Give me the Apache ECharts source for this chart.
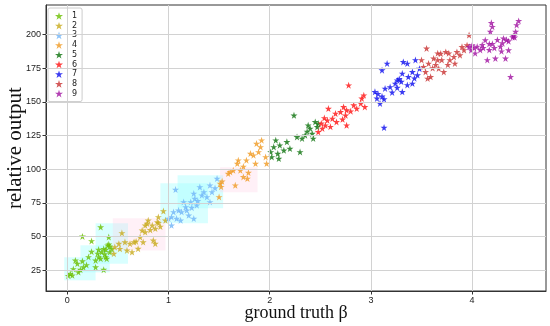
<!DOCTYPE html>
<html>
<head>
<meta charset="utf-8">
<script src="https://cdn.jsdelivr.net/npm/echarts@6/dist/echarts.min.js"></script>
<style>html,body{margin:0;padding:0;background:#fff}#c{width:550px;height:326px}</style>
</head>
<body>
<div id="c"></div>
<script>
const seriesNames = ['1','2','3','4','5','6','7','8','9'];
const seriesColors = ['#6cbf00','#c8aa1a','#6fb4f8','#f09a22','#0a700a','#ff1010','#0a0aee','#c83030','#a010a0'];
const xTicks = [0,1,2,3,4];
const yTicks = [25,50,75,100,125,150,175,200];

const s1 = [[0.03,22.5],[0.05,21.3],[0.01,21],[0.11,23.7],[0.13,25.5],[0.10,30],[0.08,32.4],[0.15,31.9],[0.16,27.4],[0.21,34.9],[0.24,38.9],[0.28,32.4],[0.28,27.4],[0.31,34.9],[0.31,40.4],[0.33,33.7],[0.36,25.5],[0.38,34.9],[0.39,33.7],[0.24,46.8],[0.15,50.2],[0.33,57.1],[0.41,49.7],[0.41,44.3],[0.38,40.4],[0.34,38.6],[0.42,38.6],[0.42,42.8],[0.36,41],[0.40,43.5],[0.44,41],[0.37,37],[0.30,37.5],[0.19,29],[0.06,26]];
const s2 = [[0.46,37.4],[0.47,42.3],[0.51,44.8],[0.54,52.7],[0.57,46],[0.59,39.8],[0.62,44.8],[0.64,38.6],[0.66,46],[0.70,41.1],[0.72,49.7],[0.75,46],[0.74,54.7],[0.79,59.7],[0.80,62.1],[0.84,58.4],[0.85,47.3],[0.87,44.8],[0.87,56],[0.89,60.9],[0.90,64.6],[0.77,53.4],[0.82,55],[0.68,46.5],[0.52,41],[0.77,58.4],[0.95,69],[0.97,62.1],[0.90,60.2],[0.92,57.5]];
const s3 = [[1.07,84.9],[1.05,68.3],[1.03,64.6],[1.08,63.4],[1.00,63.4],[1.03,58.4],[1.12,62.1],[1.13,68.3],[1.17,72],[1.15,75.7],[1.22,75.7],[1.25,82],[1.26,78.2],[1.28,73.3],[1.31,86.8],[1.33,80.7],[1.35,83.1],[1.41,88.1],[1.43,83.1],[1.41,75.7],[1.25,63.4],[1.20,65.8],[1.10,69.5],[1.38,79.4],[1.18,69.5],[1.23,71.5],[1.29,76.5],[1.48,93.1],[1.46,86]];
const s4 = [[1.51,89.4],[1.52,87],[1.53,91],[1.50,79.4],[1.59,96.8],[1.61,98],[1.66,88.1],[1.68,104.2],[1.69,106.7],[1.74,102],[1.77,106.7],[1.81,111.6],[1.84,110.4],[1.86,104.2],[1.89,112.8],[1.87,119],[1.91,116.5],[1.92,121.5],[1.96,109.1],[1.97,104.2],[1.78,93.1],[1.74,94.3],[1.71,99.2],[1.64,99.2],[1.79,97.5]];
const s5 = [[2.06,121.5],[2.04,116.5],[2.01,112.8],[2.08,111.6],[2.10,117.8],[2.14,114],[2.02,109.1],[2.09,107.9],[2.17,120.3],[2.20,115.3],[2.24,140],[2.27,124],[2.30,112.8],[2.32,122.8],[2.35,125.2],[2.38,132.6],[2.40,130.2],[2.42,126.4],[2.43,122.8],[2.45,135.1],[2.47,131.4],[2.48,133.9],[2.37,128]];
const s6 = [[2.48,127.7],[2.52,130.2],[2.51,134],[2.55,132.6],[2.58,145],[2.57,136.3],[2.62,137.6],[2.65,141.3],[2.66,135.1],[2.70,142.5],[2.73,146.2],[2.75,140],[2.76,143.8],[2.78,162.3],[2.80,143],[2.83,147.5],[2.86,145],[2.90,148.8],[2.91,152.5],[2.93,154.9],[2.94,146.2],[2.76,132.6],[2.72,137],[2.60,131.5],[2.54,138]];
const s7 = [[3.13,130.9],[3.04,157.4],[3.07,156],[3.06,152.5],[3.11,154],[3.09,148.8],[3.13,152],[3.14,159.9],[3.11,173.5],[3.16,178.4],[3.19,161],[3.21,157],[3.24,163.6],[3.26,166],[3.28,167],[3.30,165],[3.31,171],[3.32,179.6],[3.31,157.4],[3.36,162.5],[3.36,178.4],[3.37,168.5],[3.41,172.2],[3.43,167.5],[3.44,181],[3.46,169.8],[3.48,174.6],[3.41,163.6],[3.26,160.5]];
const s8 = [[3.50,181],[3.52,176],[3.54,172.2],[3.55,189.6],[3.57,178.4],[3.59,168.5],[3.56,167.3],[3.62,182.2],[3.64,177.5],[3.66,181],[3.67,174.7],[3.69,185.8],[3.70,181],[3.72,172.2],[3.74,187],[3.76,177.5],[3.77,186],[3.78,181],[3.82,183.4],[3.83,178.4],[3.85,187],[3.88,184.6],[3.90,190.8],[3.92,188.4],[3.95,192],[3.97,199.5],[3.66,186],[3.61,175]];
const s9 = [[3.97,190.8],[3.99,188.3],[4.00,192],[4.02,190],[4.03,186],[4.05,191],[4.08,188.5],[4.10,192.3],[4.11,190],[4.13,195.8],[4.15,181],[4.17,193],[4.17,188.5],[4.18,202],[4.20,205.7],[4.19,208.6],[4.23,182.2],[4.25,196],[4.28,191],[4.29,187.5],[4.31,197],[4.33,182.2],[4.34,196],[4.36,188.3],[4.38,168.5],[4.40,198],[4.41,199],[4.43,202],[4.44,207],[4.46,210],[4.42,197.8],[4.36,195],[4.30,193.5],[4.20,193],[4.22,190]];
const allSeries = [s1,s2,s3,s4,s5,s6,s7,s8,s9];

// faint highlight boxes [x0, y0, x1, y1, kind]
const boxes = [
  [-0.03,17.6,0.28,34.7,'c'],
  [0.13,23.5,0.42,43.6,'c'],
  [0.28,30,0.60,59.9,'c'],
  [0.45,39.8,0.97,63.6,'p'],
  [0.92,60,1.39,89.6,'c'],
  [1.09,71,1.54,95.5,'c'],
  [1.51,83,1.88,101.5,'p']
];

const STAR = 'path://M0,-1L0.2245,-0.309L0.951,-0.309L0.363,0.118L0.588,0.809L0,0.382L-0.588,0.809L-0.363,0.118L-0.951,-0.309L-0.2245,-0.309Z';

const chart = echarts.init(document.getElementById('c'), null, {renderer:'canvas'});

const series = allSeries.map((d,i)=>({
  name: seriesNames[i],
  type: 'scatter',
  data: d,
  symbol: STAR,
  symbolSize: 7,
  itemStyle: {color: seriesColors[i]},
  z: 3
}));
// grid lines + highlight boxes on a helper series beneath the points
series.unshift({
  name: '_grid',
  type: 'scatter',
  data: [],
  z: 1,
  silent: true,
  markLine: {
    silent: true, symbol: 'none', animation: false,
    label: {show: false},
    lineStyle: {color: '#d2d2d2', width: 1, type: 'solid'},
    emphasis: {disabled: true},
    data: xTicks.map(v=>({xAxis: v})).concat(yTicks.map(v=>({yAxis: v})))
  },
  markArea: {
    silent: true,
    data: boxes.map(b=>[
      {coord:[b[0],b[1]], itemStyle:{color: b[4]==='c' ? 'rgba(160,255,255,0.4)' : 'rgba(255,205,230,0.3)'}},
      {coord:[b[2],b[3]]}
    ])
  }
});

chart.setOption({
  animation: false,
  backgroundColor: '#fff',
  grid: {left: 46, right: 4, top: 5, bottom: 35, outerBoundsMode: 'none', containLabel: false,
         show: true, borderColor: '#333', borderWidth: 1, backgroundColor: 'transparent'},
  legend: {
    orient: 'vertical', left: 48, top: 8,
    data: seriesNames.map(n=>({name:n, icon: STAR})),
    itemWidth: 8, itemHeight: 8, itemGap: 1.7,
    padding: [4,5,4,7],
    borderColor: '#cccccc', borderWidth: 1, borderRadius: 2,
    backgroundColor: 'rgba(255,255,255,0.85)',
    textStyle: {fontSize: 8, lineHeight: 8, color: '#222', fontFamily: 'DejaVu Sans', padding:[0,0,0,4]}
  },
  xAxis: {
    type: 'value', min: -0.21, max: 4.73,
    name: 'ground truth β', nameLocation: 'middle', nameGap: 13, nameMoveOverlap: false,
    nameTextStyle: {fontFamily: 'Liberation Serif', fontSize: 18, color: '#111'},
    axisLine: {show: true, onZero: false, lineStyle: {color: '#333'}},
    axisTick: {show: true, inside: false, length: 3.5, lineStyle:{color:'#333'}, customValues: xTicks},
    axisLabel: {margin: 5, fontSize: 9, color: '#222', fontFamily: 'Liberation Sans', customValues: xTicks},
    splitLine: {show: false}
  },
  yAxis: {
    type: 'value', min: 9.7, max: 221.8,
    name: 'relative output', nameLocation: 'middle', nameGap: 20, nameMoveOverlap: false,
    nameTextStyle: {fontFamily: 'Liberation Serif', fontSize: 21, color: '#111'},
    axisLine: {show: true, onZero: false, lineStyle: {color: '#333'}},
    axisTick: {show: true, inside: false, length: 3.5, lineStyle:{color:'#333'}, customValues: yTicks},
    axisLabel: {margin: 5, fontSize: 9, color: '#222', fontFamily: 'Liberation Sans', customValues: yTicks},
    splitLine: {show: false}
  },
  series: series
});
</script>
</body>
</html>
